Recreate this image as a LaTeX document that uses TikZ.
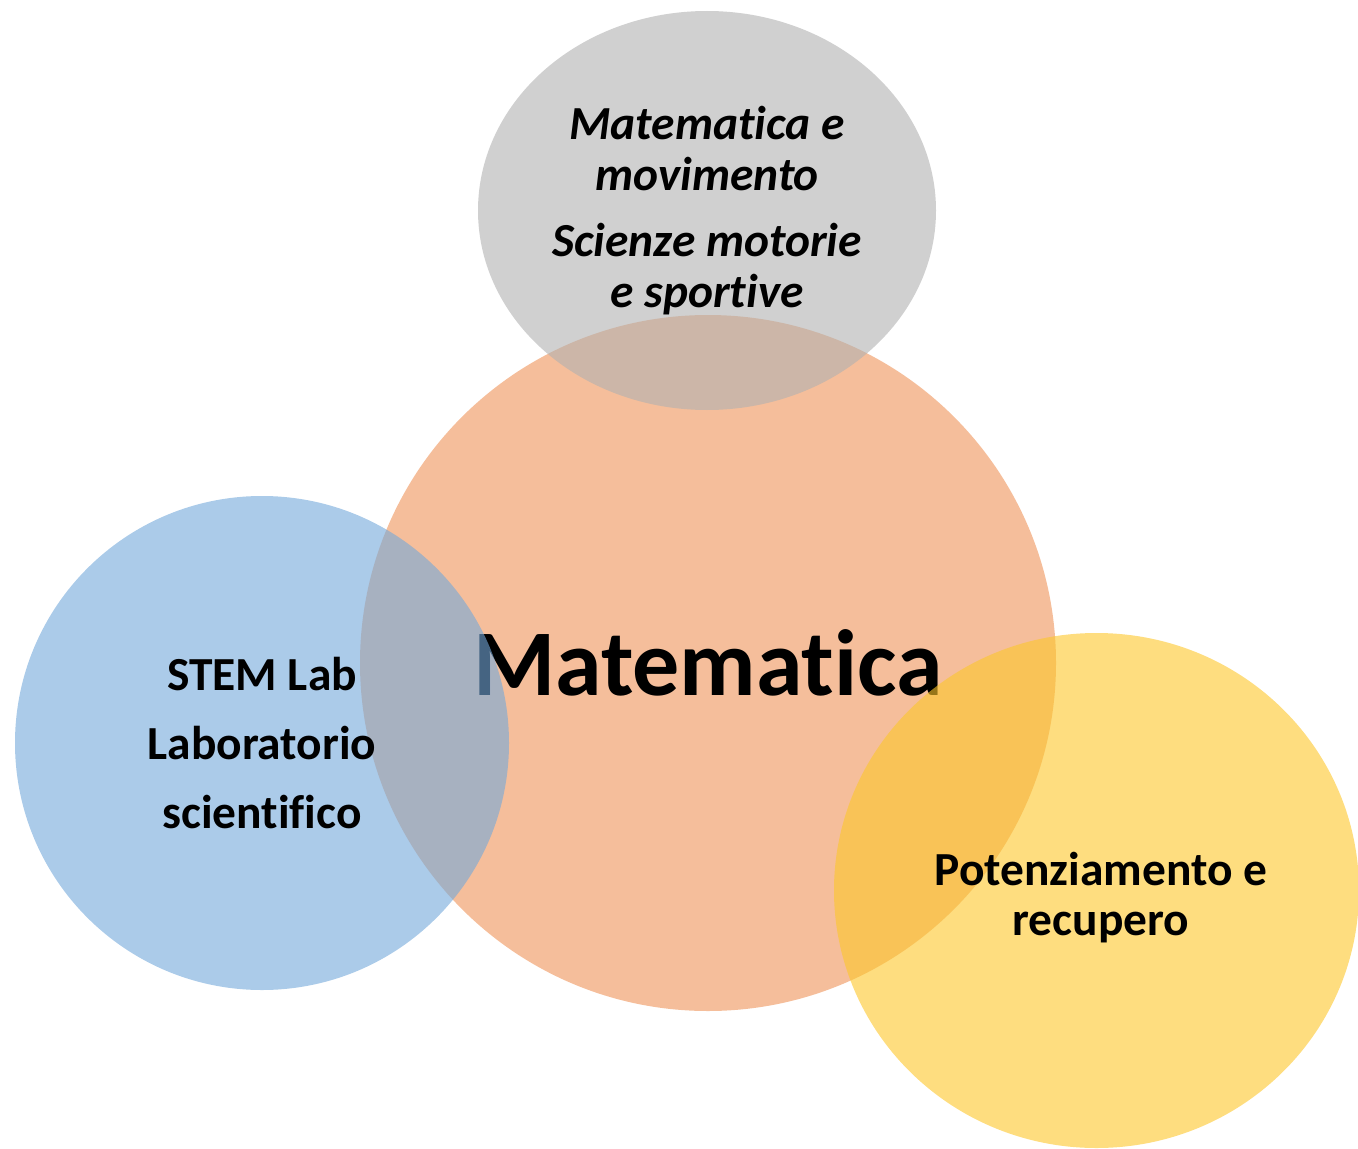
\documentclass[tikz,border=0pt]{standalone}
\usepackage{fontspec}
\setmainfont{Carlito}[Ligatures=NoCommon]
\usetikzlibrary{shapes.geometric}

\definecolor{matorange}{RGB}{238,147,88}
\definecolor{labblue}{RGB}{115,168,218}
\definecolor{movgray}{RGB}{177,177,177}
\definecolor{potyellow}{RGB}{253,198,42}

\begin{document}
\begin{tikzpicture}[
    bubble/.style={circle, fill opacity=0.6, text opacity=1, inner sep=0pt, align=center, font=\bfseries\fontsize{27}{39}\selectfont},
    ]
    \useasboundingbox (0,0) rectangle (27.16,-22.98);
    \clip (0,0) rectangle (27.16,-22.98);

    \node [bubble, fill=matorange, minimum size=13.92cm, font=\bfseries\fontsize{53.5}{60}\selectfont] (mat) at (14.16,-13.26) {Matematica};
    \node [bubble, fill=labblue, minimum size=9.88cm] (lab) at (5.24,-14.86) {STEM Lab\\Laboratorio\\scientifico};
    \node [bubble, ellipse, fill=movgray, minimum width=9.16cm, minimum height=7.98cm, font=\bfseries\itshape\fontsize{27}{29}\selectfont] (mov) at (14.14,-4.21) {Matematica e\\movimento\\[9pt]Scienze motorie\\e sportive};
    \node [bubble, ellipse, fill=potyellow, minimum width=10.5cm, minimum height=10.3cm] (pot) at (21.93,-17.81) {};
    \node [align=center, inner sep=0pt, font=\bfseries\fontsize{27}{28.5}\selectfont] (pottext) at (22.02,-17.96) {Potenziamento e\\recupero};

\end{tikzpicture}
\end{document}
